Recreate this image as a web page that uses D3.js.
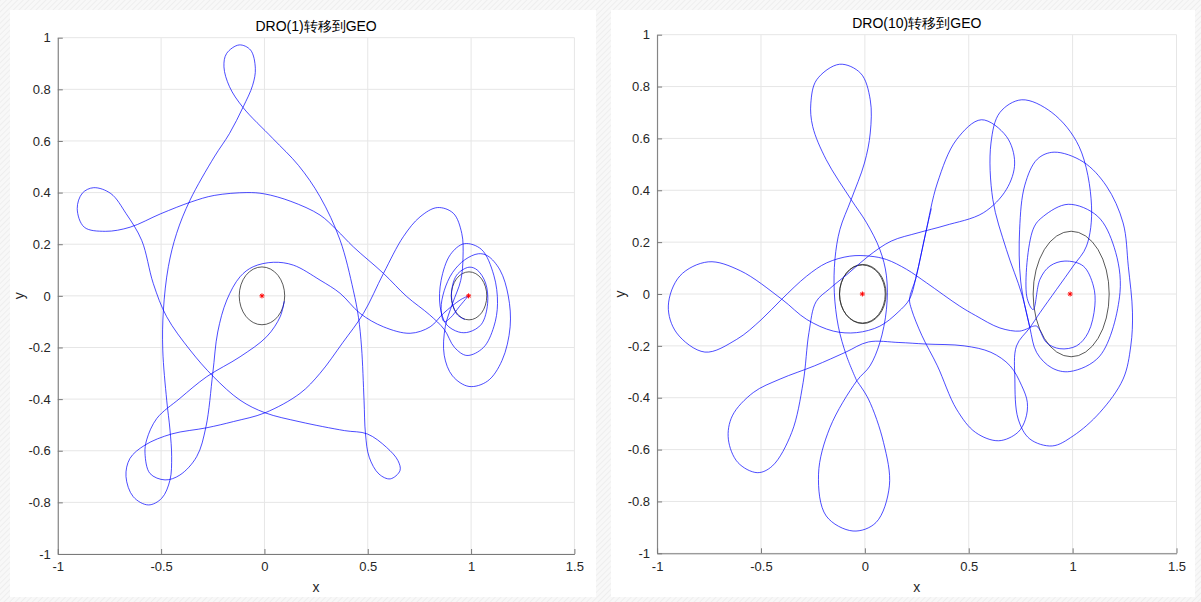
<!DOCTYPE html>
<meta charset="utf-8">
<script src="https://d3js.org/d3.v7.min.js"></script>
<style>
  body { margin: 0; }
  svg { display: block; font-family: 'Liberation Sans', Arial, sans-serif; }
</style>
<body>
<div id="chart"></div>
<script>
// tick values shared by both panels
var xTicks = [-1, -0.5, 0, 0.5, 1, 1.5];
var xTickLabels = ["-1", "-0.5", "0", "0.5", "1", "1.5"];
var yTicks = [-1, -0.8, -0.6, -0.4, -0.2, 0, 0.2, 0.4, 0.6, 0.8, 1];
var yTickLabels = ["-1", "-0.8", "-0.6", "-0.4", "-0.2", "0", "0.2", "0.4", "0.6", "0.8", "1"];

var titles = ["DRO(1)转移到GEO", "DRO(10)转移到GEO"];

// primaries (Earth, Moon) in the rotating frame
var bodies = [[-0.012, 0], [0.988, 0]];

// GEO circle and DRO orbits: [cx, cy, rx, ry]
var geoOrbit = [-0.012, 0, 0.11, 0.112];
var geoOrbit2 = [-0.01, 0, 0.112, 0.114];
var dro1Orbit = [0.99, 0, 0.086, 0.093];
var dro10Orbit = [0.993, 0, 0.183, 0.242];

// ---- DRO(1) transfer ----
var dro1Part1 = [
  [0.97,-0.092],[0.93,-0.07],[0.905,0.0],[0.93,0.08],[0.99,0.111],[1.03,0.1],[1.07,0.05],[1.08,-0.03],
  [1.05,-0.11],[0.99,-0.14],[0.94,-0.14],[0.88,-0.11],[0.85,-0.04],[0.855,0.06],[0.9,0.16],[0.967,0.202],
  [1.05,0.18],[1.11,0.08],[1.128,-0.03],[1.11,-0.12],[1.06,-0.2],[0.98,-0.231],[0.92,-0.2],[0.87,-0.13],
  [0.80,-0.074],[0.689,-0.003],[0.576,0.087],[0.43,0.19],[0.35,0.255],[0.269,0.313],[0.128,0.366],
  [0.0,0.395],[-0.085,0.40],[-0.243,0.389],[-0.354,0.364],[-0.502,0.318],[-0.65,0.266],[-0.77,0.25],
  [-0.872,0.266],[-0.906,0.338],[-0.881,0.398],[-0.826,0.419],[-0.743,0.396],[-0.669,0.318],
  [-0.594,0.215],[-0.538,0.048],[-0.473,-0.081],[-0.36,-0.21],[-0.247,-0.313],[-0.118,-0.404],
  [0.003,-0.453],[0.172,-0.488],[0.387,-0.522],[0.498,-0.535],[0.591,-0.587],[0.646,-0.638],
  [0.656,-0.677],[0.609,-0.709],[0.554,-0.69],[0.507,-0.625],[0.489,-0.535],[0.482,-0.404],
  [0.47,-0.2],[0.455,-0.083],[0.43,0.022],[0.366,0.216],[0.269,0.384],[0.165,0.505],[0.04,0.61],
  [-0.104,0.73],[-0.169,0.81],[-0.196,0.887],[-0.183,0.939],[-0.122,0.972],[-0.067,0.952],
  [-0.044,0.881],[-0.057,0.816],[-0.104,0.73],[-0.169,0.629],[-0.243,0.538],[-0.36,0.371],
  [-0.425,0.242],[-0.465,0.113],[-0.489,-0.055],[-0.492,-0.21],[-0.473,-0.404],[-0.457,-0.52],
  [-0.449,-0.623],[-0.457,-0.713],[-0.497,-0.784],[-0.562,-0.81],[-0.635,-0.778],[-0.67,-0.70],
  [-0.651,-0.63],[-0.578,-0.578],[-0.449,-0.535],[-0.279,-0.511],[-0.15,-0.487],[0.003,-0.453],
  [0.172,-0.378],[0.269,-0.30],[0.38,-0.18],[0.479,-0.068],[0.576,0.087],[0.672,0.229],
  [0.753,0.306],[0.837,0.342],[0.914,0.32],[0.955,0.242],[0.961,0.15],[0.95,0.06],[0.91,-0.03],
  [0.875,-0.12],[0.87,-0.23],[0.91,-0.31],[0.99,-0.351],[1.08,-0.33],[1.15,-0.25],[1.189,-0.12],
  [1.18,0.0],[1.14,0.1],[1.08,0.155],[1.035,0.163],[0.97,0.14],[0.91,0.09],[0.87,0.02],
  [0.855,-0.05],[0.87,-0.10],[0.9,-0.085],[0.945,-0.04],[0.987,0.0]
];
var dro1Part2 = [
  [0.987,0.0],[0.947,-0.016],[0.866,-0.068],[0.802,-0.12],[0.705,-0.145],[0.576,-0.12],[0.463,-0.068],
  [0.366,0.01],[0.269,0.061],[0.14,0.119],[0.043,0.13],[-0.054,0.113],[-0.118,0.074],[-0.182,-0.016],
  [-0.226,-0.14],[-0.25,-0.30],[-0.283,-0.507],[-0.328,-0.623],[-0.409,-0.694],[-0.481,-0.713],
  [-0.554,-0.688],[-0.578,-0.61],[-0.57,-0.558],[-0.521,-0.475],[-0.409,-0.397],[-0.279,-0.313],
  [-0.118,-0.236],[0.011,-0.158],[0.076,-0.081],[0.096,-0.02]
];

// ---- DRO(10) transfer ----
var dro10Part1 = [
  [-0.039,-0.335],[-0.088,-0.239],[-0.128,-0.124],[-0.147,0.005],[-0.144,0.134],[-0.12,0.249],
  [-0.066,0.364],[-0.002,0.505],[0.026,0.621],[0.026,0.749],[-0.02,0.851],[-0.122,0.886],
  [-0.232,0.826],[-0.26,0.736],[-0.251,0.646],[-0.186,0.518],[-0.066,0.364],[0.008,0.275],
  [0.072,0.172],[0.104,0.07],[0.104,-0.059],[0.072,-0.188],[0.024,-0.278],[-0.039,-0.335],
  [-0.168,-0.515],[-0.223,-0.695],[-0.186,-0.856],[-0.057,-0.914],[0.054,-0.881],[0.118,-0.74],
  [0.09,-0.573],[0.017,-0.405],[-0.039,-0.335]
];
var dro10Part2 = [
  [0.794,-0.129],[0.746,-0.143],[0.65,-0.131],[0.533,-0.083],[0.457,-0.047],[0.297,0.043],
  [0.201,0.095],[0.104,0.133],[0.024,0.146],[-0.072,0.146],[-0.184,0.12],[-0.28,0.069],
  [-0.4,-0.02],[-0.5,-0.1],[-0.617,-0.175],[-0.77,-0.224],[-0.906,-0.15],[-0.946,-0.046],
  [-0.89,0.07],[-0.754,0.124],[-0.6,0.09],[-0.4,-0.02],[-0.28,-0.098],[-0.152,-0.143],
  [-0.04,-0.149],[0.072,-0.124],[0.16,-0.07],[0.215,-0.02],[0.245,0.06],[0.27,0.15],
  [0.293,0.236],[0.349,0.428],[0.441,0.595],[0.561,0.672],[0.681,0.608],[0.721,0.505],
  [0.681,0.403],[0.57,0.313],[0.386,0.264],[0.256,0.236],[0.127,0.204],[0.017,0.146],
  [-0.076,0.082],[-0.17,0.02],[-0.235,-0.03],[-0.269,-0.148],[-0.297,-0.341],[-0.352,-0.534],
  [-0.445,-0.663],[-0.518,-0.689],[-0.611,-0.65],[-0.657,-0.56],[-0.638,-0.47],[-0.537,-0.38],
  [-0.408,-0.328],[-0.242,-0.277],[-0.094,-0.225],[0.017,-0.185],[0.164,-0.187],[0.293,-0.193],
  [0.478,-0.2],[0.607,-0.225],[0.699,-0.277],[0.755,-0.354],[0.782,-0.418],[0.773,-0.483],
  [0.736,-0.534],[0.644,-0.566],[0.533,-0.534],[0.441,-0.444],[0.349,-0.277],[0.275,-0.161],
  [0.225,-0.06],[0.215,-0.02],[0.245,0.06],[0.27,0.15],[0.293,0.236],[0.32,0.33]
];
var dro10Part3 = [
  [0.794,-0.129],[0.755,0.0],[0.681,0.172],[0.616,0.364],[0.607,0.582],[0.65,0.7],[0.755,0.749],
  [0.9,0.7],[1.031,0.569],[1.091,0.34],[1.067,0.185],[1.003,0.108],[0.923,0.018],[0.843,-0.072],
  [0.794,-0.13],[0.73,-0.2],[0.722,-0.328],[0.738,-0.482],[0.794,-0.559],[0.902,-0.586],
  [1.003,-0.547],[1.131,-0.457],[1.243,-0.328],[1.28,-0.2],[1.288,-0.07],[1.268,0.107],
  [1.243,0.274],[1.163,0.416],[1.05,0.51],[0.911,0.547],[0.83,0.52],[0.77,0.42],[0.745,0.25],
  [0.75,0.05],[0.794,-0.129],[0.827,-0.226],[0.9,-0.285],[0.987,-0.299],[1.131,-0.239],
  [1.228,0.006],[1.2,0.18],[1.12,0.3],[0.979,0.346],[0.86,0.3],[0.81,0.25],[0.779,-0.008],
  [0.81,-0.06],[0.843,0.057],[0.891,0.108],[0.963,0.127],[1.051,0.108],[1.1,0.031],
  [1.107,-0.046],[1.075,-0.149],[1.019,-0.2],[0.939,-0.211],[0.875,-0.188],[0.827,-0.124],
  [0.794,-0.129]
];

var panels = [
  {box: [10, 10, 586, 587], xr: [57.8, 574.4], yr: [554, 37.7], titleY: 31,
   orbits: [geoOrbit, dro1Orbit], paths: [dro1Part1, dro1Part2]},
  {box: [611, 10, 584, 587], xr: [657.1, 1176.5], yr: [553.3, 34.7], titleY: 28,
   orbits: [geoOrbit, geoOrbit2, dro10Orbit], paths: [dro10Part1, dro10Part2, dro10Part3]}
];

var svg = d3.select("#chart").append("svg")
  .attr("width", 1201).attr("height", 602);

// hatched backdrop
var pat = svg.append("defs").append("pattern")
  .attr("id", "hatch").attr("width", 4).attr("height", 4)
  .attr("patternUnits", "userSpaceOnUse")
  .attr("patternTransform", "rotate(45)");
pat.append("rect").attr("width", 4).attr("height", 4).attr("fill", "#f8f8f8");
pat.append("line").attr("x1", 0).attr("y1", 0).attr("x2", 0).attr("y2", 4)
  .attr("stroke", "#ebebeb").attr("stroke-width", 1.5);
svg.append("rect").attr("width", 1201).attr("height", 602).attr("fill", "url(#hatch)");

panels.forEach(function(p, i) {
  svg.append("rect")
    .attr("x", p.box[0]).attr("y", p.box[1])
    .attr("width", p.box[2]).attr("height", p.box[3])
    .attr("fill", "#fff");

  var x = d3.scaleLinear().domain([-1, 1.5]).range(p.xr);
  var y = d3.scaleLinear().domain([-1, 1]).range(p.yr);
  var g = svg.append("g");

  // grid
  g.selectAll(".gx").data(xTicks).enter().append("line")
    .attr("x1", function(d) { return x(d); }).attr("x2", function(d) { return x(d); })
    .attr("y1", p.yr[0]).attr("y2", p.yr[1])
    .attr("stroke", "#e6e6e6").attr("stroke-width", 1);
  g.selectAll(".gy").data(yTicks).enter().append("line")
    .attr("y1", function(d) { return y(d); }).attr("y2", function(d) { return y(d); })
    .attr("x1", p.xr[0]).attr("x2", p.xr[1])
    .attr("stroke", "#e6e6e6").attr("stroke-width", 1);

  // orbits
  p.orbits.forEach(function(o) {
    g.append("ellipse")
      .attr("cx", x(o[0])).attr("cy", y(o[1]))
      .attr("rx", x(o[0] + o[2]) - x(o[0])).attr("ry", y(o[1]) - y(o[1] + o[3]))
      .attr("fill", "none").attr("stroke", "#222").attr("stroke-opacity", 0.75)
      .attr("stroke-width", 1);
  });

  // transfer trajectory
  var line = d3.line()
    .x(function(d) { return x(d[0]); })
    .y(function(d) { return y(d[1]); })
    .curve(d3.curveCatmullRom.alpha(0.5));
  p.paths.forEach(function(pts) {
    g.append("path").attr("d", line(pts))
      .attr("fill", "none").attr("stroke", "#0000ff")
      .attr("stroke-opacity", 0.7).attr("stroke-width", 1);
  });

  // body markers (asterisks)
  bodies.forEach(function(b) {
    var cx = x(b[0]), cy = y(b[1]), r = 2.5;
    var star = g.append("g").attr("stroke", "#ff0000").attr("stroke-width", 1);
    star.append("line").attr("x1", cx - r).attr("x2", cx + r).attr("y1", cy).attr("y2", cy);
    star.append("line").attr("x1", cx).attr("x2", cx).attr("y1", cy - r).attr("y2", cy + r);
    star.append("line").attr("x1", cx - r * 0.7).attr("x2", cx + r * 0.7).attr("y1", cy - r * 0.7).attr("y2", cy + r * 0.7);
    star.append("line").attr("x1", cx - r * 0.7).attr("x2", cx + r * 0.7).attr("y1", cy + r * 0.7).attr("y2", cy - r * 0.7);
  });

  // axes
  var xAxis = d3.axisBottom(x).tickValues(xTicks)
    .tickFormat(function(d, k) { return xTickLabels[k]; })
    .tickSizeInner(-5).tickSizeOuter(0).tickPadding(8);
  var yAxis = d3.axisLeft(y).tickValues(yTicks)
    .tickFormat(function(d, k) { return yTickLabels[k]; })
    .tickSizeInner(-5).tickSizeOuter(0).tickPadding(7);

  var gx = g.append("g").attr("transform", "translate(0," + p.yr[0] + ")").call(xAxis);
  var gy = g.append("g").attr("transform", "translate(" + p.xr[0] + ",0)").call(yAxis);
  [gx, gy].forEach(function(a) {
    a.select(".domain").attr("stroke", "#7a7a7a");
    a.selectAll(".tick line").attr("stroke", "#7a7a7a");
    a.selectAll(".tick text").attr("fill", "#262626")
      .style("font-size", "13px").style("font-family", "'Liberation Sans', Arial, sans-serif");
  });

  var midX = (p.xr[0] + p.xr[1]) / 2;
  g.append("text").attr("x", midX).attr("y", p.titleY)
    .attr("text-anchor", "middle").attr("fill", "#000")
    .style("font-size", "14px").text(titles[i]);
  g.append("text").attr("x", midX).attr("y", 592)
    .attr("text-anchor", "middle").attr("fill", "#262626")
    .style("font-size", "14px").text("x");
  g.append("text")
    .attr("transform", "translate(" + (p.box[0] + 14) + "," + ((p.yr[0] + p.yr[1]) / 2) + ") rotate(-90)")
    .attr("text-anchor", "middle").attr("fill", "#262626")
    .style("font-size", "14px").text("y");
});
</script>
</body>
